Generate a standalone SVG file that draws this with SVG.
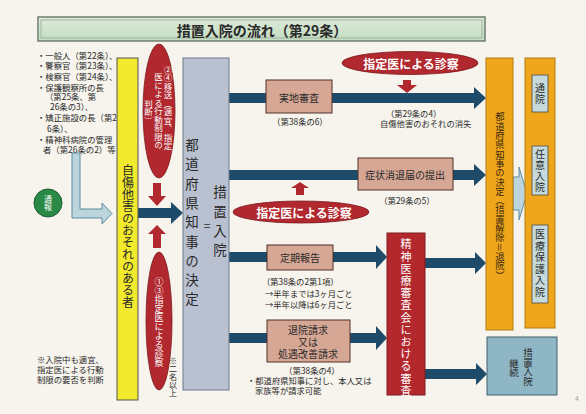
<svg xmlns="http://www.w3.org/2000/svg" width="586" height="414" viewBox="0 0 586 414">
<defs>
<linearGradient id="tg" x1="0" y1="0" x2="0" y2="1">
<stop offset="0" stop-color="#dcebd8"/><stop offset="1" stop-color="#c4dcc2"/>
</linearGradient>
</defs>
<style>
text{font-family:"Noto Sans CJK JP","Noto Sans CJK SC",sans-serif;fill:#2a2a2a}
.h{dominant-baseline:central}
.m{text-anchor:middle}
.v{writing-mode:vertical-rl;text-anchor:middle}
.w{fill:#fff}
.navy{fill:#1f4b6b}
.red{fill:#b1282e;stroke:#7d1b20;stroke-width:0.8}
.pink{fill:#d7a795;stroke:#4e3128;stroke-width:1}
.orange{fill:#f0a61a;stroke:#b27a12;stroke-width:1}
.lb{fill:#c6dadb;stroke:#4a4a4a;stroke-width:0.8}
.s9{font-size:8.4px}
.s8{font-size:8.3px}
</style>
<rect width="586" height="414" fill="#f6f4ed"/>

<g id="title">
<rect x="38" y="17" width="447" height="24" fill="url(#tg)" stroke="#6f7d6f" stroke-width="1.5"/>
<rect x="41" y="20" width="441" height="18" fill="none" stroke="#9fb39e" stroke-width="1"/>
<text x="262" y="30" class="h m" style="font-size:14px;font-weight:bold">措置入院の流れ（第29条）</text>
</g>

<g id="reporters" class="s9">
<text x="37" y="55" class="h">・一般人（第22条）、</text>
<text x="37" y="65" class="h">・警察官（第23条）、</text>
<text x="37" y="76" class="h">・検察官（第24条）、</text>
<text x="37" y="87" class="h">・保護観察所の長</text>
<text x="45" y="96" class="h">（第25条、第</text>
<text x="50" y="106" class="h">26条の3）、</text>
<text x="37" y="117" class="h">・矯正施設の長（第2</text>
<text x="47" y="128" class="h">6条）、</text>
<text x="37" y="139" class="h">・精神科病院の管理</text>
<text x="43" y="149" class="h">者（第26条の2）等</text>
</g>

<g id="note" class="s9">
<text x="37" y="359" class="h">※入院中も適宜、</text>
<text x="37" y="369" class="h">指定医による行動</text>
<text x="37" y="379" class="h">制限の要否を判断</text>
</g>

<g id="connectors">
<path d="M72,153 L80,153 L80,209 L102,209 L102,203 L112,213.5 L102,224 L102,218 L72,218 Z" fill="#bcd5dd" stroke="#5b8ea2" stroke-width="1"/>
<polygon class="navy" points="138,208 171,208 171,202 183,213 171,224 171,218 138,218"/>
<polygon class="navy" points="229,93 474,93 474,87 486,98 474,109 474,103 229,103"/>
<polygon class="navy" points="229,170 474,170 474,164 486,175 474,186 474,180 229,180"/>
<polygon class="navy" points="229,252 376,252 376,245 387,257 376,269 376,262 229,262"/>
<polygon class="navy" points="229,333 376,333 376,326 387,338 376,350 376,343 229,343"/>
<polygon class="navy" points="425,258 475,258 475,252 486,263 475,274 475,268 425,268"/>
<polygon class="navy" points="425,369 476,369 476,363 487,374 476,385 476,379 425,379"/>
<polygon fill="#b1282e" points="153,183 161,183 161,196 166,196 157,206 148,196 153,196"/>
<polygon fill="#b1282e" points="157,225 166,234 161,234 161,248 153,248 153,234 148,234"/>
<polygon fill="#b1282e" points="403,80 411,80 411,85 417,85 407,93 397,85 403,85"/>
<polygon fill="#b1282e" points="300,182 309,188 304,188 304,195 296,195 296,188 291,188"/>
<path d="M513,177 L519,177 L519,167 L527,193.5 L519,220 L519,210 L513,210 Z" fill="#bcd5dd" stroke="#5b8ea2" stroke-width="1"/>
</g>

<g id="tsuho">
<circle cx="48" cy="203" r="14" fill="#2a8a45" stroke="#1d5e30" stroke-width="1"/>
<text x="48" y="203" class="v w" style="font-size:8px">通報</text>
</g>

<g id="jishou">
<rect x="117" y="58" width="21" height="342" fill="#f2ea2c" stroke="#555" stroke-width="1"/>
<text x="128" y="236" class="v" style="font-size:12px">自傷他害のおそれのある者</text>
</g>

<g id="isou">
<ellipse cx="159" cy="111" rx="16" ry="67" class="red"/>
<text x="168" y="108" class="v w" style="font-size:8.5px">②④移送（適宜、指定</text>
<text x="158.5" y="111" class="v w" style="font-size:8.5px">医による行動制限の</text>
<text x="148.5" y="112" class="v w" style="font-size:8.5px">判断）</text>
</g>

<g id="shinsatsu1">
<ellipse cx="159" cy="321" rx="13" ry="69" class="red"/>
<text x="159" y="322" class="v w" style="font-size:9px">①③指定医による診察</text>
<text x="173" y="377" class="v" style="font-size:8px">※二名以上</text>
</g>

<g id="chiji">
<rect x="183" y="58" width="46" height="332" fill="#b9c1d1" stroke="#6d7a8e" stroke-width="1"/>
<text x="192" y="225" class="v" style="font-size:13.5px;letter-spacing:5.8px">都道府県知事の決定</text>
<text x="207" y="224" class="h m" style="font-size:12px">=</text>
<text x="220" y="224" class="v" style="font-size:13.5px;letter-spacing:5.8px">措置入院</text>
</g>

<g id="jitchi">
<rect x="266" y="80" width="66" height="33" class="pink"/>
<text x="299" y="97" class="h m" style="font-size:10px">実地審査</text>
<text x="300" y="121" class="h m s8">（第38条の6）</text>
</g>

<g id="shinsatsu2">
<ellipse cx="410" cy="63" rx="68" ry="11.5" class="red"/>
<text x="411" y="63" class="h m w" style="font-size:12px;font-weight:bold">指定医による診察</text>
<text x="386" y="113" class="h s8">（第29条の4）</text>
<text x="380" y="123" class="h s8">自傷他害のおそれの消失</text>
</g>

<g id="shojo">
<rect x="358" y="158" width="95" height="32" class="pink"/>
<text x="405" y="174" class="h m" style="font-size:10px">症状消退届の提出</text>
<text x="407" y="200" class="h m s8">（第29条の5）</text>
</g>

<g id="shinsatsu3">
<ellipse cx="301" cy="212" rx="68" ry="11" class="red"/>
<text x="304" y="212" class="h m w" style="font-size:12px;font-weight:bold">指定医による診察</text>
</g>

<g id="teiki">
<rect x="267" y="245" width="66" height="25" class="pink"/>
<text x="300" y="257" class="h m" style="font-size:10px">定期報告</text>
<text x="262" y="281" class="h s8">（第38条の2第1項）</text>
<text x="265" y="293" class="h s8">→半年までは3ヶ月ごと</text>
<text x="265" y="304" class="h s8">→半年以降は6ヶ月ごと</text>
</g>

<g id="taiin">
<rect x="267" y="320" width="83" height="42" class="pink"/>
<text x="308" y="329" class="h m" style="font-size:10px">退院請求</text>
<text x="308" y="341" class="h m" style="font-size:10px">又は</text>
<text x="308" y="353" class="h m" style="font-size:10px">処遇改善請求</text>
<text x="312" y="370" class="h m s8">（第38条の4）</text>
<text x="247" y="380" class="h s8">・都道府県知事に対し、本人又は</text>
<text x="255" y="390" class="h s8">家族等が請求可能</text>
</g>

<g id="shinsakai">
<rect x="387" y="233" width="38" height="162" fill="#b3282d" stroke="#7d1b20" stroke-width="1"/>
<text x="406" y="318" class="v w" style="font-size:11px;letter-spacing:1.2px">精神医療審査会における審査</text>
</g>

<g id="kaijo">
<rect x="486" y="58" width="27" height="272" class="orange"/>
<text x="500" y="196" class="v" style="font-size:9.3px;fill:#3a2810">都道府県知事の決定（措置解除＝退院）</text>
</g>

<g id="after">
<rect x="525" y="58" width="30" height="270" class="orange"/>
<rect x="532" y="75" width="16" height="37" class="lb"/>
<text x="540" y="94" class="v" style="font-size:10px;letter-spacing:1px">通院</text>
<rect x="532" y="146" width="16" height="49" class="lb"/>
<text x="540" y="171" class="v" style="font-size:10px;letter-spacing:1px">任意入院</text>
<rect x="532" y="225" width="16" height="78" class="lb"/>
<text x="540" y="264" class="v" style="font-size:10px;letter-spacing:1.6px">医療保護入院</text>
</g>

<g id="keizoku">
<rect x="487" y="337" width="70" height="58" fill="#8fb6c4" stroke="#44606e" stroke-width="1"/>
<text x="528" y="367" class="v" style="font-size:9.5px">措置入院</text>
<text x="514" y="368" class="v" style="font-size:9.5px">継続</text>
</g>

<text x="577" y="398" class="h m" style="font-size:6px;fill:#999">4</text>
</svg>
